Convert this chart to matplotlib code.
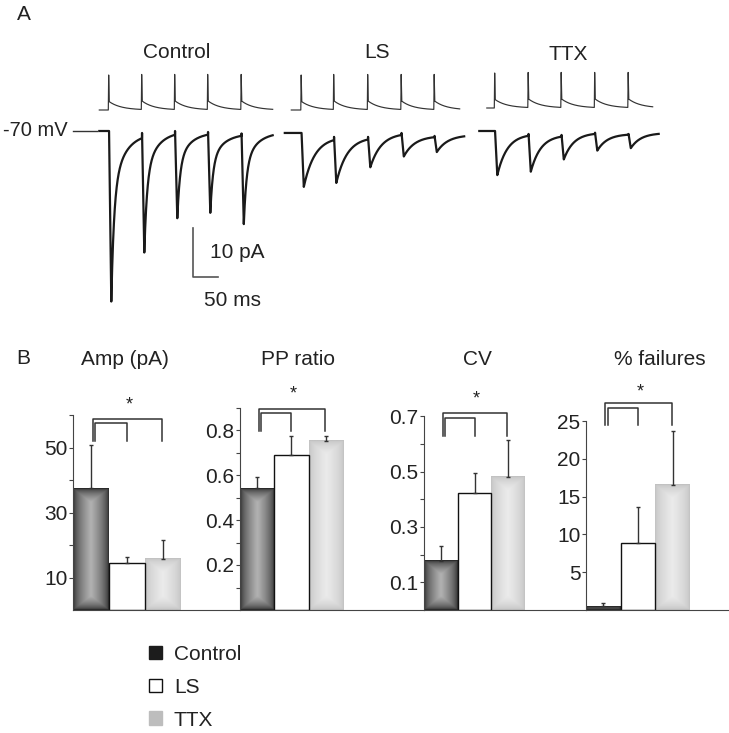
import numpy as np
import matplotlib
matplotlib.use("Agg")
import matplotlib.pyplot as plt
from matplotlib.patches import Patch

plt.rcParams['font.family'] = ['Liberation Sans', 'DejaVu Sans']
plt.rcParams['font.size'] = 15
plt.rcParams['text.color'] = '#222222'
plt.rcParams['axes.edgecolor'] = '#444444'

W, H = 729, 733

# ---------------- panel A : example sweeps ----------------
conditions = ['Control', 'LS', 'TTX']
sweep_start_ms = [0, 371, 760]
sweep_len_ms = [347, 359, 359]
stim_offset_ms = [0, 13, 15]
stim_len_ms = [347, 350, 347]
spike_ms = [[18, 84, 150, 216, 283],
            [32, 97, 165, 232, 298],
            [30, 97, 163, 230, 297]]
peak_pA = [[-34.8, -24.8, -17.8, -16.7, -19.0],
           [-11.4, -10.6, -7.4, -5.2, -4.3],
           [-9.0, -8.3, -5.8, -4.0, -3.5]]
# level before each pulse and at the end of the sweep
rest_pA = [[0.0, -0.4, 0.0, -0.2, -0.5, -0.2],
           [-0.4, -1.2, -1.2, -0.4, -1.0, -0.8],
           [0.0, -0.6, -0.8, -0.35, -0.6, -0.4]]
fast_frac = [0.64, 0.0, 0.0]
tau_fast_ms = [5.4, 22, 20]
tau_slow_ms = [25, 22, 20]
stim_base = [0, 0, 2]

# ---------------- panel B : summary ----------------
groups = ['Control', 'LS', 'TTX']
titles = ['Amp (pA)', 'PP ratio', 'CV', '% failures']
amp_mean = [37.4, 14.6, 15.7]
amp_sem = [13.4, 1.6, 5.7]
pp_mean = [0.541, 0.69, 0.752]
pp_sem = [0.051, 0.083, 0.021]
cv_mean = [0.178, 0.421, 0.481]
cv_sem = [0.054, 0.073, 0.133]
fail_mean = [0.5, 8.9, 16.6]
fail_sem = [0.45, 4.7, 7.1]
ytop = [60, 0.9, 0.7, 25]
yticks = [[10, 20, 30, 40, 50, 60],
          [0.1, 0.2, 0.3, 0.4, 0.5, 0.6, 0.7, 0.8, 0.9],
          [0.1, 0.2, 0.3, 0.4, 0.5, 0.6, 0.7],
          [5, 10, 15, 20, 25]]
ylabels = [['10', '', '30', '', '50', ''],
           ['', '0.2', '', '0.4', '', '0.6', '', '0.8', ''],
           ['0.1', '', '0.3', '', '0.5', '', '0.7'],
           ['5', '10', '15', '20', '25']]
# bracket heights: outer top, inner top, leg end, star
brackets = [[58.8, 57.5, 52.0, 63.0],
            [0.893, 0.876, 0.796, 0.96],
            [0.711, 0.693, 0.628, 0.76],
            [27.4, 26.7, 24.5, 28.9]]


def px_axes(fig, l, t, r, b):
    return fig.add_axes([l / W, 1 - b / H, (r - l) / W, (b - t) / H])


def epsc_trace(t, spikes, peaks, rest, a, tf, ts_, lag=1.5, rise=4.5):
    y = np.full_like(t, rest[0])
    for k, ts in enumerate(spikes):
        t_on = ts + lag
        t_pk = t_on + rise
        nxt = spikes[k + 1] + lag if k + 1 < len(spikes) else t[-1] + 1
        m = (t >= t_on) & (t < t_pk)
        y[m] = rest[k] + (peaks[k] - rest[k]) * (t[m] - t_on) / rise
        m = (t >= t_pk) & (t < nxt)
        dt = t[m] - t_pk
        decay = a * np.exp(-dt / tf) + (1 - a) * np.exp(-dt / ts_)
        y[m] = rest[k + 1] + (peaks[k] - rest[k + 1]) * decay
    return y


def spike_trace(t, spikes, height=35.0, adp=8.3, tau=24.0):
    y = np.zeros_like(t)
    for ts in spikes:
        m = (t >= ts) & (t < ts + 0.75)
        y[m] += height * (t[m] - ts) / 0.75
        m = (t >= ts + 0.75) & (t < ts + 2.0)
        y[m] += height + (adp - height) * (t[m] - ts - 0.75) / 1.25
        m = t >= ts + 2.0
        y[m] += adp * np.exp(-(t[m] - ts - 2.0) / tau)
    return y


fig = plt.figure(figsize=(W / 100, H / 100), dpi=100)

# px -> data for panel A:  ms = (px - 99.3) * 2 ; pA = -(py - 131) / 4.9
axA = px_axes(fig, 90, 115, 690, 315)
axA.set_xlim((90 - 99.3) * 2, (690 - 99.3) * 2)
axA.set_ylim(-(315 - 131) / 4.9, -(115 - 131) / 4.9)
axA.axis('off')
axS = px_axes(fig, 90, 60, 690, 115)
axS.set_xlim(axA.get_xlim())
axS.set_ylim(-5, 50)
axS.axis('off')

for i in range(3):
    t = np.arange(0, sweep_len_ms[i], 0.25)
    y = epsc_trace(t, spike_ms[i], peak_pA[i], rest_pA[i],
                   fast_frac[i], tau_fast_ms[i], tau_slow_ms[i])
    axA.plot(t + sweep_start_ms[i], y, color='#1a1a1a', lw=1.6, clip_on=False)
    ts = np.arange(stim_offset_ms[i], stim_len_ms[i], 0.25)
    axS.plot(ts + sweep_start_ms[i], spike_trace(ts, spike_ms[i]) + stim_base[i],
             color='#333333', lw=0.85, clip_on=False)

# -70 mV marker and scale bar
axA.plot([-52.6, -4.6], [0, 0], color='#333333', lw=1, clip_on=False)
axA.plot([187.4, 187.4, 237.4], [-19.8, -29.8, -29.8], color='#555555', lw=1.2,
         clip_on=False)
axA.text(221, -24.7, '10 pA', ha='left', va='center')
axA.text(266, -34.6, '50 ms', ha='center', va='center')
fig.text(68 / W, 1 - 130 / H, '-70 mV', ha='right', va='center', fontsize=14.5)

for name, (x, y) in zip(conditions, [(177, 53), (377, 52), (568, 54)]):
    fig.text(x / W, 1 - y / H, name, ha='center', va='center')
fig.text(24 / W, 1 - 15 / H, 'A', ha='center', va='center')
fig.text(23 / W, 1 - 358 / H, 'B', ha='center', va='center')

# ---------------- panel B axes ----------------
lefts = [73, 240, 424, 586]
rights = [240, 424, 586, 729]
bar_px = [36, 34.3, 33.7, 34.7]
title_x = [125, 298, 477, 660]
means = [amp_mean, pp_mean, cv_mean, fail_mean]
sems = [amp_sem, pp_sem, cv_sem, fail_sem]
bottom_px = 610
px_per_unit = [3.25, 225, 277, 7.56]

grad_cols = {'Control': (0.17, 0.70), 'TTX': (0.76, 0.92)}


def shaded_bar(ax, x0, h, h_px, edge, centre):
    nx = 64
    ny = max(int(h_px), 2)
    hx = 1 - np.abs(np.linspace(-1, 1, nx))
    py = np.linspace(0, h_px, ny)
    vy = np.clip(np.minimum(py, h_px - py) / 14.0, 0, 1)
    d = np.minimum(hx[None, :], vy[:, None])
    img = edge + (centre - edge) * d ** 0.6
    ax.imshow(img, extent=[x0, x0 + 1, 0, h], cmap='gray', vmin=0, vmax=1,
              aspect='auto', interpolation='bilinear', origin='lower', zorder=1)


for p in range(4):
    top_px = bottom_px - ytop[p] * px_per_unit[p]
    ax = px_axes(fig, lefts[p], top_px, rights[p], bottom_px)
    xmax = (rights[p] - lefts[p]) / bar_px[p]
    for g in range(3):
        h = means[p][g]
        if groups[g] == 'LS':
            ax.bar(g, h, width=1, align='edge', facecolor='white',
                   edgecolor='#111111', lw=1, zorder=2)
        else:
            e, c = grad_cols[groups[g]]
            shaded_bar(ax, g, h, h * px_per_unit[p], e, c)
    ax.errorbar(np.arange(3) + 0.5, means[p], yerr=[np.zeros(3), sems[p]],
                fmt='none', ecolor='#333333', elinewidth=1, capsize=1.6,
                capthick=1, zorder=3)
    ax.set_xlim(0, xmax)
    ax.set_ylim(0, ytop[p])
    ax.set_xticks([])
    ax.set_yticks(yticks[p])
    ax.set_yticklabels(ylabels[p])
    ax.tick_params(axis='y', direction='out', length=3, width=0.8, pad=1,
                   colors='#444444', labelcolor='#222222', labelsize=15)
    ax.spines['top'].set_visible(False)
    ax.spines['right'].set_visible(False)
    ax.patch.set_alpha(0)
    ot, it, leg, star = brackets[p]
    ax.plot([0.55, 0.55, 2.47, 2.47], [leg, ot, ot, leg], color='#333333',
            lw=1.1, clip_on=False)
    ax.plot([0.62, 0.62, 1.5, 1.5], [leg, it, it, leg], color='#333333',
            lw=1.1, clip_on=False)
    ax.text(1.55, star, '*', ha='center', va='center', fontsize=13, clip_on=False)
    fig.text(title_x[p] / W, 1 - 359 / H, titles[p], ha='center', va='center')

handles = [Patch(facecolor='#1c1c1c', edgecolor='#1c1c1c'),
           Patch(facecolor='white', edgecolor='#111111', lw=1),
           Patch(facecolor='#bdbdbd', edgecolor='#bdbdbd')]
fig.legend(handles, groups, loc='upper left',
           bbox_to_anchor=(149 / W, 1 - 645 / H), frameon=False,
           borderpad=0, borderaxespad=0, handlelength=0.62, handleheight=0.62,
           handletextpad=0.58, labelspacing=0.66, fontsize=15)

fig.savefig('out.png', dpi=100)
